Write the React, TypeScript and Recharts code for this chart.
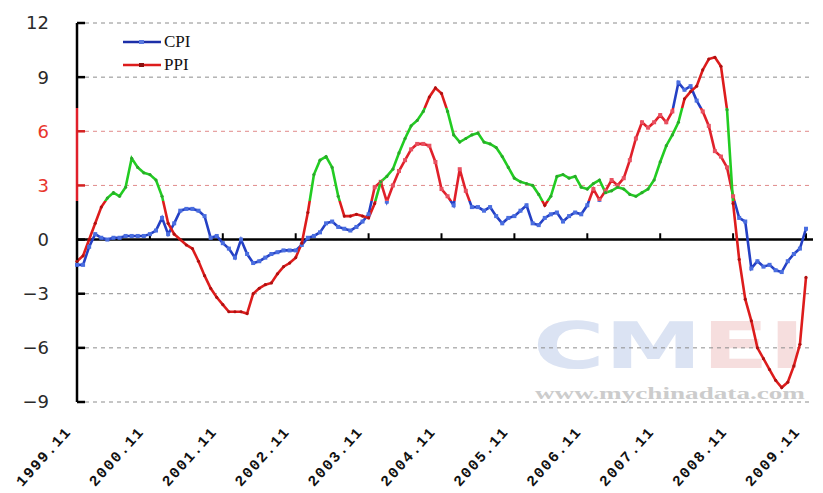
import { CartesianGrid, Line, LineChart, ReferenceLine, XAxis, YAxis } from 'recharts';

// Monthly y/y change, 1999.11 – 2009.11 (%).
const CPI_1999 = [-1.4, -1.4];
const CPI_2000 = [-0.4, 0.3, 0.1, 0.0, 0.1, 0.1, 0.2, 0.2, 0.2, 0.2, 0.3, 0.5];
const CPI_2001 = [1.2, 0.3, 0.9, 1.6, 1.7, 1.7, 1.6, 1.3, 0.1, 0.2, -0.2, -0.5];
const CPI_2002 = [-1.0, 0.0, -0.8, -1.3, -1.2, -1.0, -0.8, -0.7, -0.6, -0.6, -0.6, -0.3];
const CPI_2003 = [0.1, 0.2, 0.4, 0.9, 1.0, 0.7, 0.6, 0.5, 0.7, 1.0, 1.4, 2.9];
const CPI_2004 = [3.2, 2.1, 3.0, 3.8, 4.4, 5.0, 5.3, 5.3, 5.2, 4.3, 2.8, 2.4];
const CPI_2005 = [1.9, 3.9, 2.7, 1.8, 1.8, 1.6, 1.8, 1.3, 0.9, 1.2, 1.3, 1.6];
const CPI_2006 = [1.9, 0.9, 0.8, 1.2, 1.4, 1.5, 1.0, 1.3, 1.5, 1.4, 1.9, 2.8];
const CPI_2007 = [2.2, 2.7, 3.3, 3.0, 3.4, 4.4, 5.6, 6.5, 6.2, 6.5, 6.9, 6.5];
const CPI_2008 = [7.1, 8.7, 8.3, 8.5, 7.7, 7.1, 6.3, 4.9, 4.6, 4.0, 2.4, 1.2];
const CPI_2009 = [1.0, -1.6, -1.2, -1.5, -1.4, -1.7, -1.8, -1.2, -0.8, -0.5, 0.6];

const PPI_1999 = [-1.2, -0.9];
const PPI_2000 = [0.0, 0.9, 1.8, 2.3, 2.6, 2.4, 2.9, 4.5, 4.0, 3.7, 3.6, 3.3];
const PPI_2001 = [2.4, 0.9, 0.3, 0.0, -0.3, -0.5, -1.2, -2.0, -2.7, -3.2, -3.6, -4.0];
const PPI_2002 = [-4.0, -4.0, -4.1, -3.0, -2.7, -2.5, -2.4, -1.9, -1.5, -1.3, -1.0, -0.2];
const PPI_2003 = [1.5, 3.6, 4.4, 4.6, 4.0, 2.4, 1.3, 1.3, 1.4, 1.3, 1.2, 2.0];
const PPI_2004 = [3.2, 3.5, 3.9, 4.8, 5.6, 6.3, 6.6, 7.1, 7.9, 8.4, 8.1, 7.1];
const PPI_2005 = [5.8, 5.4, 5.6, 5.8, 5.9, 5.4, 5.3, 5.1, 4.6, 4.0, 3.4, 3.2];
const PPI_2006 = [3.1, 3.0, 2.5, 1.9, 2.4, 3.5, 3.6, 3.4, 3.5, 2.9, 2.8, 3.1];
const PPI_2007 = [3.3, 2.6, 2.7, 2.9, 2.8, 2.5, 2.4, 2.6, 2.8, 3.3, 4.3, 5.2];
const PPI_2008 = [5.8, 6.5, 7.8, 8.2, 8.5, 9.4, 10.0, 10.1, 9.6, 7.2, 2.0, -1.1];
const PPI_2009 = [-3.3, -4.5, -6.0, -6.6, -7.2, -7.8, -8.2, -7.9, -7.0, -5.8, -2.1];

const CPI = [
  ...CPI_1999, ...CPI_2000, ...CPI_2001, ...CPI_2002, ...CPI_2003, ...CPI_2004,
  ...CPI_2005, ...CPI_2006, ...CPI_2007, ...CPI_2008, ...CPI_2009,
];
const PPI = [
  ...PPI_1999, ...PPI_2000, ...PPI_2001, ...PPI_2002, ...PPI_2003, ...PPI_2004,
  ...PPI_2005, ...PPI_2006, ...PPI_2007, ...PPI_2008, ...PPI_2009,
];

// month labels "1999.11" ... "2009.11"
const MONTHS = CPI.map((_, i) => {
  const n = 1999 * 12 + 10 + i;
  return `${Math.floor(n / 12)}.${String((n % 12) + 1).padStart(2, '0')}`;
});
const YEAR_MARKS = ['2000.11', '2001.11', '2002.11', '2003.11', '2004.11', '2005.11', '2006.11', '2007.11', '2008.11', '2009.11'];
const Y_TICKS = [-9, -6, -3, 0, 3, 6, 9, 12];

const rows = MONTHS.map((month, i) => ({ month, cpi: CPI[i], ppi: PPI[i] }));

const W = 815;
const H = 485;
const AXIS_X = 69;
// horizontal strip (svg coords) where the source image has its colours shifted
const BAND_TOP = 100;
const BAND_BOTTOM = 193;

function bandStops(outside: string, inside: string) {
  const a = BAND_TOP / H;
  const b = BAND_BOTTOM / H;
  return [
    <stop key="0" offset={0} stopColor={outside} />,
    <stop key="1" offset={a} stopColor={outside} />,
    <stop key="2" offset={a} stopColor={inside} />,
    <stop key="3" offset={b} stopColor={inside} />,
    <stop key="4" offset={b} stopColor={outside} />,
    <stop key="5" offset={1} stopColor={outside} />,
  ];
}

function YTick({ y, payload }: any) {
  const inBand = y > BAND_TOP && y < BAND_BOTTOM;
  const v = payload.value as number;
  return (
    <g>
      <text
        x={41}
        y={y}
        dy="0.36em"
        textAnchor="end"
        fontSize={18}
        fontFamily="DejaVu Sans"
        fill={inBand ? '#e8352c' : '#2a2a2a'}
      >
        {v < 0 ? `\u2212${-v}` : v}
      </text>
      <line x1={AXIS_X} x2={AXIS_X + 8} y1={y} y2={y} stroke={inBand ? '#d42020' : '#000'} strokeWidth={2.5} />
    </g>
  );
}

function XTick({ x, payload }: any) {
  return (
    <g transform={`translate(${x - 5}, 424) rotate(-48)`}>
      <text
        x={0}
        y={0}
        textAnchor="end"
        fontSize={15}
        fontWeight="bold"
        letterSpacing={1.6}
        fontFamily="Liberation Mono"
        fill="#111"
      >
        {payload.value}
      </text>
    </g>
  );
}

function CpiDot({ cx, cy, index }: any) {
  return <rect key={`c${index}`} x={cx - 2} y={cy - 2} width={4} height={4} fill="url(#cpiDot)" />;
}

function PpiDot({ cx, cy, index }: any) {
  return <circle key={`p${index}`} cx={cx} cy={cy} r={1.6} fill="url(#ppiDot)" />;
}

function LegendBox() {
  const items = [
    { label: 'CPI', line: '#1c2fa8', mark: '#5a7ae0' },
    { label: 'PPI', line: '#dd1c1c', mark: '#8a1010' },
  ];
  return (
    <div
      style={{
        position: 'absolute',
        left: 115,
        top: 22,
        fontFamily: 'Liberation Serif',
        fontSize: 17,
        color: '#111',
      }}
    >
      {items.map((it) => (
        <div key={it.label} style={{ display: 'flex', alignItems: 'center', height: 23 }}>
          <svg width={38} height={10} style={{ marginRight: 3 }}>
            <line x1={0} x2={38} y1={5} y2={5} stroke={it.line} strokeWidth={2.5} />
            <rect x={16} y={3} width={5} height={4} fill={it.mark} />
          </svg>
          <span>{it.label}</span>
        </div>
      ))}
    </div>
  );
}

function Watermark() {
  return (
    <svg width={W} height={H} style={{ position: 'absolute', left: 0, top: 0 }}>
      <text
        x={525}
        y={360}
        fontSize={64}
        fontWeight="bold"
        fontFamily="DejaVu Sans"
        textLength={272}
        lengthAdjust="spacingAndGlyphs"
      >
        <tspan fill="#dbe3f3">CM</tspan>
        <tspan fill="#f6dede">EI</tspan>
      </text>
      <text
        x={527}
        y={391}
        fontSize={17}
        fontWeight="bold"
        fontFamily="Liberation Serif"
        fill="#cccccc"
        textLength={270}
        lengthAdjust="spacingAndGlyphs"
      >
        www.mychinadata.com
      </text>
    </svg>
  );
}

export default function App() {
  return (
    <div style={{ position: 'relative', width: W, height: H }}>
      <Watermark />
      <LineChart
        width={W}
        height={H}
        data={rows}
        margin={{ top: 15, right: 10, bottom: 0, left: 0 }}
        style={{ position: 'relative' }}
      >
        <defs>
          <linearGradient id="cpiGrad" gradientUnits="userSpaceOnUse" x1={0} y1={0} x2={0} y2={H}>
            {bandStops('#2440c4', '#e0202a')}
          </linearGradient>
          <linearGradient id="cpiDot" gradientUnits="userSpaceOnUse" x1={0} y1={0} x2={0} y2={H}>
            {bandStops('#4a6ee0', '#e85060')}
          </linearGradient>
          <linearGradient id="ppiGrad" gradientUnits="userSpaceOnUse" x1={0} y1={0} x2={0} y2={H}>
            {bandStops('#dd1c1c', '#22cc22')}
          </linearGradient>
          <linearGradient id="ppiDot" gradientUnits="userSpaceOnUse" x1={0} y1={0} x2={0} y2={H}>
            {bandStops('#b01010', '#2aa82a')}
          </linearGradient>
          <linearGradient id="axisGrad" gradientUnits="userSpaceOnUse" x1={0} y1={0} x2={0} y2={H}>
            {bandStops('#000000', '#e0202a')}
          </linearGradient>
          <linearGradient id="gridGrad" gradientUnits="userSpaceOnUse" x1={0} y1={0} x2={0} y2={H}>
            {bandStops('#8c8c8c', '#e08a8a')}
          </linearGradient>
        </defs>
        <CartesianGrid vertical={false} stroke="url(#gridGrad)" strokeDasharray="4 4" />
        <XAxis
          dataKey="month"
          interval={11}
          axisLine={false}
          tickLine={false}
          tick={<XTick />}
          height={91}
          padding={{ left: 0, right: 7 }}
        />
        <YAxis
          domain={[-9, 12]}
          ticks={Y_TICKS}
          width={AXIS_X}
          axisLine={{ stroke: 'url(#axisGrad)', strokeWidth: 2.5 }}
          tickLine={false}
          tick={<YTick />}
        />
        <ReferenceLine y={0} stroke="#000" strokeWidth={2.5} />
        {YEAR_MARKS.map((m) => (
          <ReferenceLine
            key={m}
            segment={[
              { x: m, y: 0 },
              { x: m, y: 0.35 },
            ]}
            stroke="#000"
            strokeWidth={2}
          />
        ))}
        <Line
          type="linear"
          dataKey="cpi"
          name="CPI"
          stroke="url(#cpiGrad)"
          strokeWidth={2.6}
          dot={CpiDot}
          isAnimationActive={false}
        />
        <Line
          type="linear"
          dataKey="ppi"
          name="PPI"
          stroke="url(#ppiGrad)"
          strokeWidth={2.6}
          dot={PpiDot}
          isAnimationActive={false}
        />
      </LineChart>
      <LegendBox />
    </div>
  );
}
